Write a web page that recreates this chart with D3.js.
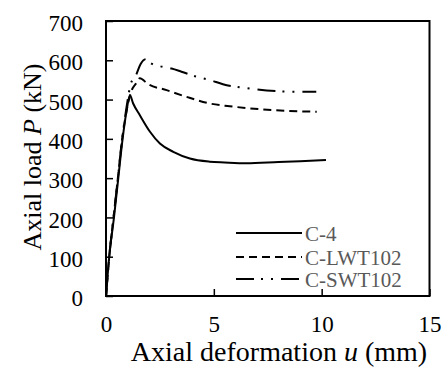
<!DOCTYPE html>
<html>
<head>
<meta charset="utf-8">
<script src="https://cdn.jsdelivr.net/npm/d3@7"></script>
<style>
  body { margin: 0; background: #fff; }
  svg { display: block; font-family: "Liberation Serif", "Times New Roman", serif; }
</style>
</head>
<body>
<svg id="chart" width="445" height="367"></svg>
<script>
// axial deformation u (mm) / axial load P (kN)
const c4U = [0, 0.15, 0.37, 0.57, 0.77, 0.95, 1.11, 1.26, 1.57, 2.04, 2.5, 3.12, 3.89, 4.81, 5.5, 6.5, 8.0, 9.0, 10.2]
const c4P = [0, 100, 200, 300, 400, 470, 511, 490, 460, 418, 388, 367, 350, 342, 340, 338, 341, 343, 346]

const lwtU = [0, 0.15, 0.35, 0.55, 0.75, 0.95, 1.2, 1.34, 1.57, 1.96, 2.81, 3.73, 4.81, 5.74, 7.27, 8.5, 9.77]
const lwtP = [0, 100, 200, 300, 400, 470, 525, 537, 554, 539, 524, 507, 490, 483, 475, 471, 469]

const swtU = [0, 0.15, 0.35, 0.55, 0.75, 0.95, 1.15, 1.39, 1.6, 1.85, 2.04, 2.5, 3.04, 3.5, 4.2, 4.81, 5.42, 6.67, 8.83, 9.75]
const swtP = [0, 100, 200, 300, 400, 480, 540, 562, 590, 603, 594, 585, 579, 571, 558, 550, 539, 528, 520, 520]

const seriesNames = ["C-4", "C-LWT102", "C-SWT102"]
const xTicks = [0, 5, 10, 15]
const yTicks = [0, 100, 200, 300, 400, 500, 600, 700]

const dashes = ["none", "8,5", "18,7,2,8,2,8"]

const svg = d3.select("#chart")
const margin = {top: 21, left: 106, right: 15.5, bottom: 71}
const width = 445 - margin.left - margin.right,
      height = 367 - margin.top - margin.bottom

const g = svg.append("g").attr("transform", `translate(${margin.left},${margin.top})`)

const x = d3.scaleLinear().domain([0, 15]).range([0, width])
const y = d3.scaleLinear().domain([0, 700]).range([height, 0])

// ticks point inward
g.append("g")
  .attr("transform", `translate(0,${height})`)
  .call(d3.axisBottom(x).tickValues(xTicks).tickSizeInner(-7).tickSizeOuter(0).tickPadding(20))
  .call(a => a.select(".domain").remove())
  .call(a => a.selectAll("line").attr("stroke-width", 1.5))
  .call(a => a.selectAll("text").attr("font-size", 23).attr("font-family", "Liberation Serif").attr("fill", "#000"))

g.append("g")
  .call(d3.axisLeft(y).tickValues(yTicks).tickSizeInner(-7).tickSizeOuter(0).tickPadding(23))
  .call(a => a.select(".domain").remove())
  .call(a => a.selectAll("line").attr("stroke-width", 1.5))
  .call(a => a.selectAll("text").attr("font-size", 23).attr("font-family", "Liberation Serif").attr("fill", "#000").attr("dy", "0.42em"))

g.append("rect")
  .attr("width", width).attr("height", height)
  .attr("fill", "none").attr("stroke", "#000").attr("stroke-width", 2)

const line = d3.line().x(d => x(d[0])).y(d => y(d[1])).curve(d3.curveMonotoneX)

const series = [
  d3.zip(c4U, c4P),
  d3.zip(lwtU, lwtP),
  d3.zip(swtU, swtP)
]

series.forEach((pts, i) => {
  g.append("path")
    .datum(pts)
    .attr("fill", "none")
    .attr("stroke", "#000")
    .attr("stroke-width", 2)
    .attr("stroke-dasharray", dashes[i])
    .attr("d", line)
})

// legend
const legendY = [233, 257, 279]
seriesNames.forEach((name, i) => {
  svg.append("line")
    .attr("x1", 236).attr("x2", 302)
    .attr("y1", legendY[i]).attr("y2", legendY[i])
    .attr("stroke", "#000").attr("stroke-width", 2)
    .attr("stroke-dasharray", dashes[i])
  svg.append("text")
    .attr("x", 305).attr("y", legendY[i] + 8)
    .attr("font-size", 21)
    .attr("fill", "#595959")
    .text(name)
})

// axis titles
const xt = svg.append("text")
  .attr("x", 279).attr("y", 361)
  .attr("text-anchor", "middle")
  .attr("font-size", 28)
xt.append("tspan").text("Axial deformation ")
xt.append("tspan").attr("font-style", "italic").text("u")
xt.append("tspan").text(" (mm)")

const yt = svg.append("text")
  .attr("transform", "translate(41,157) rotate(-90)")
  .attr("text-anchor", "middle")
  .attr("font-size", 26)
yt.append("tspan").text("Axial load ")
yt.append("tspan").attr("font-style", "italic").text("P")
yt.append("tspan").text(" (kN)")
</script>
</body>
</html>
